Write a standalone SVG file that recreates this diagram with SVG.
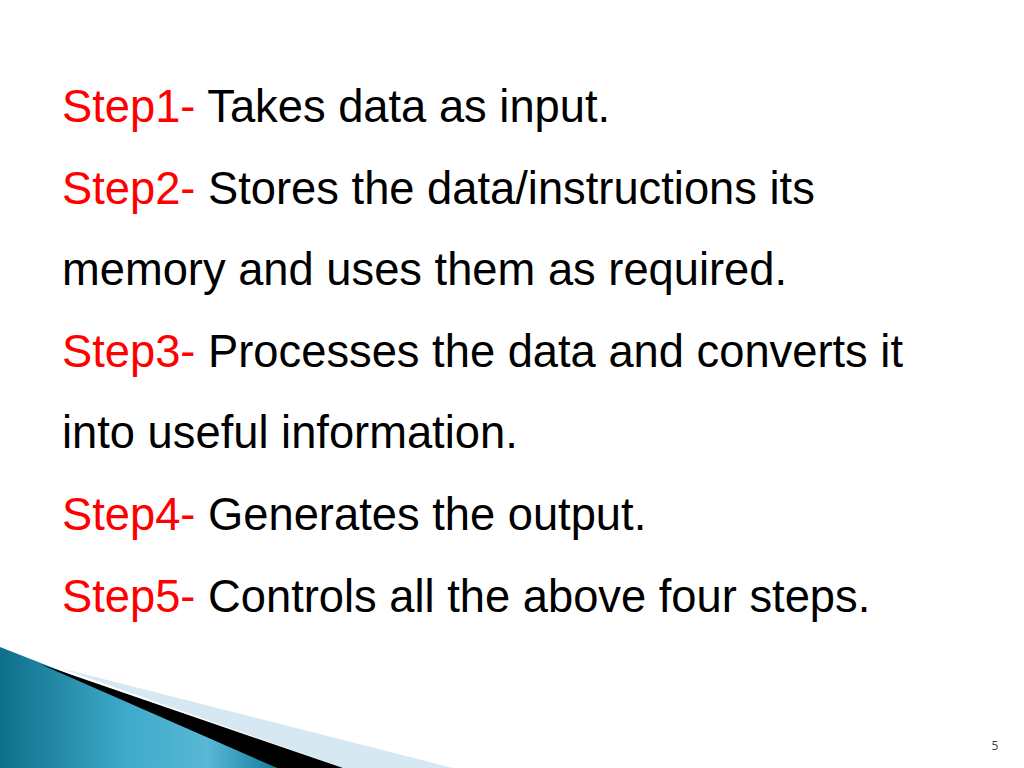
<svg xmlns="http://www.w3.org/2000/svg" width="1024" height="768" viewBox="0 0 1024 768">
<defs>
<style>
.t{font-family:"Liberation Sans",Arial,sans-serif;font-size:45.3px;fill:#000}
.r{fill:#ff0000}
.pn{font-family:"Open Sans","Noto Sans",sans-serif;font-size:12px;fill:#404040}
</style>
<linearGradient id="bg" x1="0" y1="0" x2="1" y2="0">
<stop offset="0" stop-color="#0e6f8a"/>
<stop offset="0.45" stop-color="#3fa9c9"/>
<stop offset="0.75" stop-color="#58b8d6"/>
<stop offset="1" stop-color="#137c99"/>
</linearGradient>
</defs>
<rect width="1024" height="768" fill="#fff"/>
<g id="decoration">
<path d="M0,647 Q140,700 277,768 L0,768 Z" fill="url(#bg)"/>
<path d="M60,668 L453,768 L343,768 Z" fill="#d6e9f2"/>
<path d="M40,664 L343,768 L277,768 Z" fill="#000"/>
</g>
<g id="text">
<text class="t" x="62" y="122"><tspan class="r">Step1- </tspan>Takes data as input.</text>
<text class="t" x="62" y="204"><tspan class="r">Step2- </tspan>Stores the data/instructions its</text>
<text class="t" x="62" y="285">memory and uses them as required.</text>
<text class="t" x="62" y="367"><tspan class="r">Step3- </tspan>Processes the data and converts it</text>
<text class="t" x="62" y="448">into useful information.</text>
<text class="t" x="62" y="530"><tspan class="r">Step4- </tspan>Generates the output.</text>
<text class="t" x="62" y="612"><tspan class="r">Step5- </tspan>Controls all the above four steps.</text>
</g>
<text class="pn" x="995" y="750" text-anchor="middle">5</text>
</svg>
